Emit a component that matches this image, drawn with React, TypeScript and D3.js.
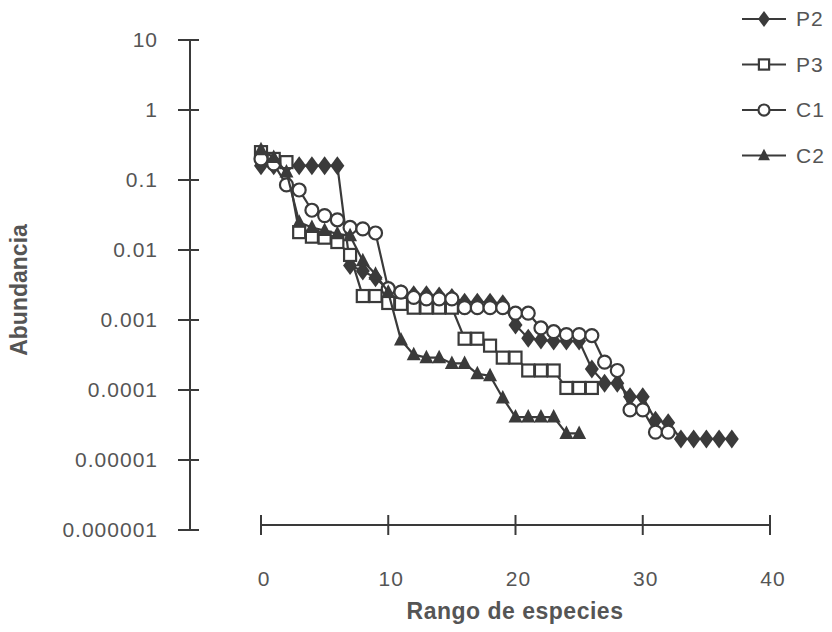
import React from "react";
import * as d3 from "d3";

// abundance by species rank (rank = index, starting at 0)
const p2Values = [
  0.16, 0.16, 0.16, 0.16, 0.16, 0.16, 0.16, 0.006, 0.005, 0.004, 0.0027,
  0.0024, 0.0023, 0.0023, 0.0022, 0.0021, 0.0018, 0.0018, 0.0018, 0.0017,
  0.00085, 0.00055, 0.00052, 0.0005, 0.0005, 0.0005, 0.0002, 0.000125,
  0.000125, 0.00008, 0.00008, 0.000037, 0.000034, 0.00002, 0.00002, 0.00002,
  0.00002, 0.00002,
];
const p3Values = [
  0.25, 0.2, 0.18, 0.018, 0.0155, 0.015, 0.013, 0.0085, 0.0022, 0.0022,
  0.00175, 0.0017, 0.0015, 0.0015, 0.0015, 0.0015, 0.00054, 0.00054, 0.00043,
  0.00029, 0.00029, 0.00019, 0.00019, 0.00019, 0.000107, 0.000107, 0.000107,
];
const c1Values = [
  0.2, 0.17, 0.085, 0.072, 0.037, 0.031, 0.027, 0.021, 0.02, 0.0175, 0.0028,
  0.0025, 0.0021, 0.002, 0.002, 0.002, 0.0015, 0.0015, 0.0015, 0.0015,
  0.00125, 0.00125, 0.00077, 0.00068, 0.00062, 0.00062, 0.0006, 0.00025,
  0.00019, 0.000052, 0.000052, 0.000025, 0.000025,
];
const c2Values = [
  0.27, 0.21, 0.13, 0.025, 0.021, 0.019, 0.017, 0.016, 0.007, 0.0045, 0.0025,
  0.00052, 0.00032, 0.00029, 0.00029, 0.00024, 0.00024, 0.00017, 0.00016,
  0.000077, 0.000041, 0.000041, 0.000041, 0.000041, 0.000024, 0.000024,
];

const seriesNames = ["P2", "P3", "C1", "C2"];
const yTicks = [10, 1, 0.1, 0.01, 0.001, 0.0001, 0.00001, 0.000001];
const yTickLabels = ["10", "1", "0.1", "0.01", "0.001", "0.0001", "0.00001", "0.000001"];
const xTicks = [0, 10, 20, 30, 40];

const ink = "#3a3a3a";
const textColor = "#555";
const font = "'Liberation Sans', Arial, Helvetica, sans-serif";

// marker shapes, centered at 0,0
const markerFor = (name: string, scale = 1) => {
  const s = scale;
  if (name === "P2")
    return <path d={`M0,${-9.5 * s} L${7 * s},0 L0,${9.5 * s} L${-7 * s},0 Z`} fill={ink} />;
  if (name === "P3")
    return <rect x={-6 * s} y={-6 * s} width={12 * s} height={12 * s} fill="#fff" stroke={ink} strokeWidth={2.2} />;
  if (name === "C1")
    return <circle r={6.5 * s} fill="#fff" stroke={ink} strokeWidth={2.2} />;
  return <path d={`M0,${-8 * s} L${7 * s},${5.5 * s} L${-7 * s},${5.5 * s} Z`} fill={ink} />;
};

export default function App() {
  const x = d3.scaleLinear().domain([0, 40]).range([261, 770]);
  const y = d3.scaleLog().domain([0.000001, 10]).range([530, 40]);
  const axisX = 190;
  const axisY = 525;

  const series = [p2Values, p3Values, c1Values, c2Values];
  const line = d3
    .line<number>()
    .x((_, i) => x(i))
    .y((v) => y(v));

  return (
    <svg
      width={832}
      height={632}
      style={{ position: "absolute", left: 0, top: 0, background: "#fff" }}
      fontFamily={font}
    >
      {/* y axis */}
      <line x1={axisX} x2={axisX} y1={y(10)} y2={y(0.000001)} stroke={ink} strokeWidth={2} />
      {yTicks.map((t, i) => (
        <g key={t} transform={`translate(0,${y(t)})`}>
          <line x1={axisX - 12} x2={axisX + 9} stroke={ink} strokeWidth={2} />
          <text
            x={158}
            dy="0.35em"
            textAnchor="end"
            fontSize={21}
            letterSpacing={1}
            fill={textColor}
          >
            {yTickLabels[i]}
          </text>
        </g>
      ))}
      <text
        transform={`translate(27,290) rotate(-90)`}
        textAnchor="middle"
        fontSize={23}
        fontWeight="bold"
        fill={textColor}
      >
        Abundancia
      </text>

      {/* x axis */}
      <line x1={x(0)} x2={x(40)} y1={axisY} y2={axisY} stroke={ink} strokeWidth={2} />
      {xTicks.map((t) => (
        <g key={t} transform={`translate(${x(t)},0)`}>
          <line y1={axisY - 10} y2={axisY + 10} stroke={ink} strokeWidth={2} />
          <text x={3} y={586} textAnchor="middle" fontSize={21} letterSpacing={1} fill={textColor}>
            {t}
          </text>
        </g>
      ))}
      <text
        x={515}
        y={619}
        textAnchor="middle"
        fontSize={23}
        fontWeight="bold"
        letterSpacing={0.5}
        fill={textColor}
      >
        Rango de especies
      </text>

      {/* series */}
      {series.map((vals, si) => (
        <g key={seriesNames[si]}>
          <path d={line(vals) || ""} fill="none" stroke={ink} strokeWidth={2.2} />
          {vals.map((v, i) => (
            <g key={i} transform={`translate(${x(i)},${y(v)})`}>
              {markerFor(seriesNames[si])}
            </g>
          ))}
        </g>
      ))}

      {/* legend */}
      {seriesNames.map((name, i) => {
        const ly = 19 + i * 45.5;
        return (
          <g key={name} transform={`translate(0,${ly})`}>
            <line x1={742} x2={786} stroke={ink} strokeWidth={2} />
            <g transform="translate(764,0)">{markerFor(name, 0.85)}</g>
            <text x={796} dy="0.35em" fontSize={21} letterSpacing={1} fill={textColor}>
              {name}
            </text>
          </g>
        );
      })}
    </svg>
  );
}
